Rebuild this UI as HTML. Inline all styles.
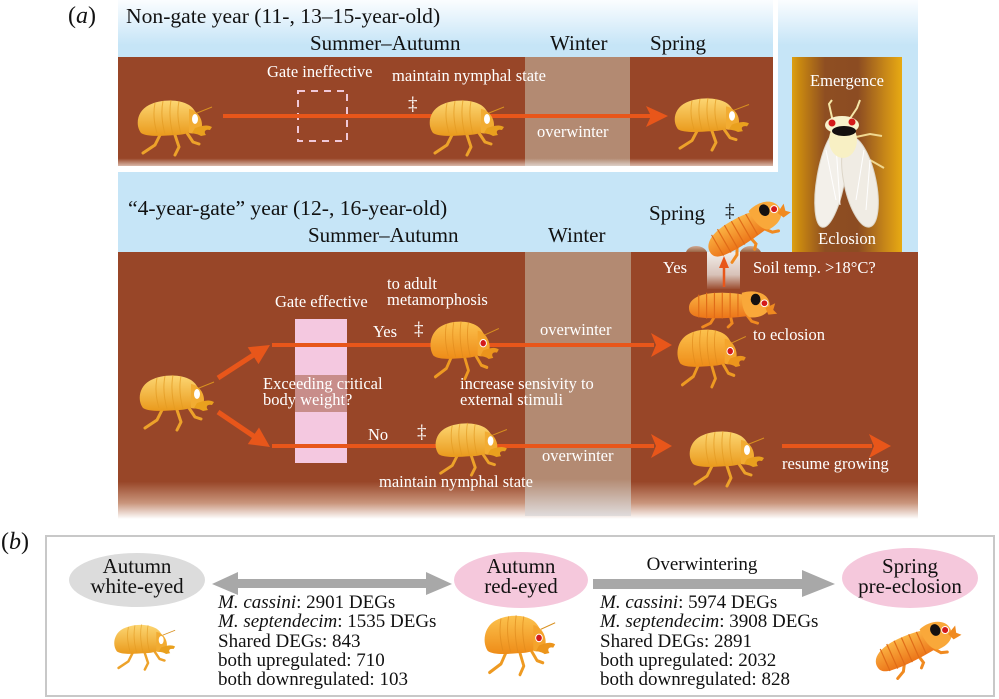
<!DOCTYPE html>
<html><head><meta charset="utf-8"><style>
html,body{margin:0;padding:0;background:#fff;}
svg{display:block;}
text{font-family:"Liberation Serif",serif;}
</style></head><body>
<svg width="999" height="699" viewBox="0 0 999 699" xmlns="http://www.w3.org/2000/svg">
<defs>
<linearGradient id="skyT" x1="0" y1="0" x2="0" y2="45" gradientUnits="userSpaceOnUse"><stop offset="0" stop-color="#fbfdff"/><stop offset="1" stop-color="#c6e5f7"/></linearGradient>
<linearGradient id="soilTop" x1="0" y1="57" x2="0" y2="166" gradientUnits="userSpaceOnUse"><stop offset="0" stop-color="#984628"/><stop offset="0.93" stop-color="#984628"/><stop offset="1" stop-color="#d9b8a8"/></linearGradient>
<linearGradient id="soilLow" x1="0" y1="252" x2="0" y2="519" gradientUnits="userSpaceOnUse"><stop offset="0" stop-color="#984628"/><stop offset="0.86" stop-color="#984628"/><stop offset="0.94" stop-color="#c9957c"/><stop offset="1" stop-color="#ffffff"/></linearGradient>
<linearGradient id="winTop" x1="0" y1="57" x2="0" y2="166" gradientUnits="userSpaceOnUse"><stop offset="0" stop-color="#b38a72"/><stop offset="0.93" stop-color="#b38a72"/><stop offset="1" stop-color="#ddd0c8"/></linearGradient>
<linearGradient id="winLow" x1="0" y1="252" x2="0" y2="516" gradientUnits="userSpaceOnUse"><stop offset="0" stop-color="#b38a72"/><stop offset="0.86" stop-color="#b38a72"/><stop offset="1" stop-color="#e0dcdc"/></linearGradient>
<linearGradient id="emer" x1="792" y1="0" x2="902" y2="0" gradientUnits="userSpaceOnUse"><stop offset="0" stop-color="#dca012"/><stop offset="0.07" stop-color="#c98810"/><stop offset="0.3" stop-color="#8e4e22"/><stop offset="0.6" stop-color="#8c4c22"/><stop offset="0.85" stop-color="#c88818"/><stop offset="1" stop-color="#e8aa12"/></linearGradient>
<linearGradient id="gb" x1="0" y1="0" x2="0" y2="1"><stop offset="0" stop-color="#fcd672"/><stop offset="1" stop-color="#ea9a1c"/></linearGradient>
<linearGradient id="gr" x1="0" y1="0" x2="0" y2="1"><stop offset="0" stop-color="#fcc24e"/><stop offset="1" stop-color="#ee8c18"/></linearGradient>
<linearGradient id="go" x1="0" y1="0" x2="0" y2="1"><stop offset="0" stop-color="#fbb444"/><stop offset="1" stop-color="#ec7418"/></linearGradient>
<linearGradient id="hole" x1="0" y1="252" x2="0" y2="290" gradientUnits="userSpaceOnUse"><stop offset="0" stop-color="#f2eeea"/><stop offset="0.6" stop-color="#d8c2b8"/><stop offset="1" stop-color="#984628"/></linearGradient>
<linearGradient id="mound" x1="0" y1="0" x2="0" y2="1"><stop offset="0" stop-color="#d0ab96"/><stop offset="1" stop-color="#9a6444"/></linearGradient>
</defs>

<rect x="118" y="0" width="800" height="252" fill="url(#skyT)"/>
<rect x="118" y="45" width="800" height="207" fill="#c6e5f7"/>
<rect x="118" y="0" width="660" height="172" fill="#ffffff"/>
<rect x="118" y="0" width="655" height="57" fill="url(#skyT)"/>
<rect x="118" y="45" width="655" height="12" fill="#c6e5f7"/>
<rect x="118" y="57" width="655" height="109" fill="url(#soilTop)"/>
<rect x="525" y="57" width="105" height="109" fill="url(#winTop)"/>

<rect x="118" y="252" width="800" height="267" fill="url(#soilLow)"/>
<rect x="525" y="252" width="106" height="264" fill="url(#winLow)"/>

<rect x="792" y="57" width="110" height="195" fill="url(#emer)"/>

<rect x="295" y="319" width="52" height="144" fill="#f4c8e0"/>
<rect x="295" y="375" width="52" height="37" fill="#c88d8a"/>

<text x="68" y="23" font-size="24" fill="#111">(<tspan font-style="italic">a</tspan>)</text>
<text x="126" y="23" font-size="21.6" fill="#111">Non-gate year (11-, 13–15-year-old)</text>
<text x="310" y="50" font-size="21" fill="#111">Summer–Autumn</text>
<text x="550" y="50" font-size="21" fill="#111">Winter</text>
<text x="650" y="50" font-size="21" fill="#111">Spring</text>
<g font-size="16.5" fill="#fff">
<text x="267" y="77">Gate ineffective</text>
<text x="392" y="81">maintain nymphal state</text>
<text x="537" y="137">overwinter</text>
</g>
<text x="408" y="110" font-size="19" fill="#fff">‡</text>
<rect x="298" y="91" width="49" height="50" fill="none" stroke="#f0c8d8" stroke-width="2" stroke-dasharray="7,6"/>

<rect x="223" y="114" width="428" height="4" fill="#e8561a"/>
<polygon points="646,106 668,116 646,127 651,116" fill="#e8561a"/>

<text x="128" y="215" font-size="21.6" fill="#111">“4-year-gate” year (12-, 16-year-old)</text>
<text x="308" y="242" font-size="21" fill="#111">Summer–Autumn</text>
<text x="548" y="242" font-size="21" fill="#111">Winter</text>
<text x="649" y="220" font-size="21" fill="#111">Spring</text>
<text x="725" y="217" font-size="19" fill="#111">‡</text>
<g font-size="16.5" fill="#fff">
<text x="275" y="307">Gate effective</text>
<text x="387" y="289">to adult</text>
<text x="387" y="305">metamorphosis</text>
<text x="373" y="337">Yes</text>
<text x="540" y="335">overwinter</text>
<text x="263" y="389">Exceeding critical</text>
<text x="263" y="405">body weight?</text>
<text x="460" y="389">increase sensivity to</text>
<text x="460" y="405">external stimuli</text>
<text x="368" y="440">No</text>
<text x="379" y="487">maintain nymphal state</text>
<text x="542" y="461">overwinter</text>
<text x="782" y="469">resume growing</text>
<text x="753" y="340">to eclosion</text>
<text x="663" y="273">Yes</text>
<text x="753" y="273">Soil temp. &gt;18°C?</text>
<text x="847" y="86" text-anchor="middle">Emergence</text>
<text x="847" y="244" text-anchor="middle">Eclosion</text>
</g>
<text x="414" y="335" font-size="19" fill="#fff">‡</text>
<text x="417" y="438" font-size="19" fill="#fff">‡</text>

<line x1="218" y1="378" x2="255" y2="354" stroke="#e8561a" stroke-width="5"/>
<polygon points="270,345 258.5,364.1 247.7,347.3" fill="#e8561a"/>
<line x1="218" y1="412" x2="255" y2="437" stroke="#e8561a" stroke-width="5"/>
<polygon points="270,447 247.8,444.1 259,427.5" fill="#e8561a"/>
<rect x="272" y="343" width="382" height="4" fill="#e8561a"/>
<polygon points="651,333 672,345 651,357 656,345" fill="#e8561a"/>
<rect x="272" y="444" width="382" height="4" fill="#e8561a"/>
<polygon points="651,434 672,446 651,458 656,446" fill="#e8561a"/>
<rect x="782" y="444" width="90" height="4" fill="#e8561a"/>
<polygon points="869,434 891,446 869,458 874,446" fill="#e8561a"/>

<path d="M686,252 C689,244 703,244 707,252 Z" fill="url(#mound)"/>
<path d="M740,252 C744,244 757,244 761,252 Z" fill="url(#mound)"/>
<rect x="707" y="252" width="33" height="37" fill="url(#hole)"/>
<line x1="724" y1="287" x2="724" y2="266" stroke="#e8561a" stroke-width="2.5"/>
<polygon points="719,268 724,256 729,268" fill="#e8561a"/>

<g>
<path d="M833,122 L829,104 L832,100 M849,120 L857,108 L860,100" stroke="#f4e6a8" stroke-width="2" fill="none"/>
<path d="M856,137 L870,134 L882,136 M856,146 L870,160 L884,168" stroke="#f0d890" stroke-width="2" fill="none"/>
<ellipse cx="831" cy="178" rx="14" ry="50" fill="#f3f0ea" stroke="#ddd6c8" stroke-width="1" transform="rotate(10 831 178)"/>
<ellipse cx="860" cy="182" rx="16" ry="46" fill="#f0ece4" stroke="#ddd6c8" stroke-width="1" transform="rotate(-12 860 182)"/>
<path d="M826,150 L836,200 M836,145 L840,205 M864,150 L856,200 M870,160 L866,210" stroke="#ffffff" stroke-width="1" fill="none"/>
<ellipse cx="843" cy="140" rx="14" ry="18" fill="#f8f0c4"/>
<ellipse cx="842" cy="125" rx="17" ry="9" fill="#f8f2cc"/>
<circle cx="832" cy="123" r="3.5" fill="#d41a1a"/>
<circle cx="852" cy="122" r="3.5" fill="#d41a1a"/>
<ellipse cx="844" cy="131" rx="12" ry="5" fill="#151010"/>
</g>

<g transform="translate(135,97)">
<path d="M26,36 L20,48 L8,56 M40,38 L44,50 L40,58 M52,36 L58,45 L64,47" stroke="#eda22a" stroke-width="3" fill="none" stroke-linecap="round" stroke-linejoin="round"/>
<path d="M6,36 C0,28 2,14 14,8 C26,2 44,2 54,8 C60,12 63,18 62,26 C61,34 52,38 40,38 C26,39 12,40 6,36 Z" fill="url(#gb)"/>
<path d="M20,6 C18,16 19,26 22,36 M28,4 C26,14 27,26 30,37 M36,3 C34,14 35,26 38,38 M44,4 C42,14 43,26 46,37" stroke="#e39a22" stroke-width="1" fill="none" opacity=".7"/>
<path d="M54,12 C61,13 67,20 67,28 C67,34 61,38 54,36 Z" fill="#f2ac32"/>
<ellipse cx="60" cy="22" rx="3" ry="5" fill="#fff"/>
<path d="M60,31 C66,29 72,27 77,30 L75,33 C71,32 68,34 71,38 L66,39 C63,37 60,37 57,36 Z" fill="#e9a01e"/>
<line x1="62" y1="16" x2="77" y2="10" stroke="#d89020" stroke-width="1"/>
</g>
<g transform="translate(427,97)">
<path d="M26,36 L20,48 L8,56 M40,38 L44,50 L40,58 M52,36 L58,45 L64,47" stroke="#eda22a" stroke-width="3" fill="none" stroke-linecap="round" stroke-linejoin="round"/>
<path d="M6,36 C0,28 2,14 14,8 C26,2 44,2 54,8 C60,12 63,18 62,26 C61,34 52,38 40,38 C26,39 12,40 6,36 Z" fill="url(#gb)"/>
<path d="M20,6 C18,16 19,26 22,36 M28,4 C26,14 27,26 30,37 M36,3 C34,14 35,26 38,38 M44,4 C42,14 43,26 46,37" stroke="#e39a22" stroke-width="1" fill="none" opacity=".7"/>
<path d="M54,12 C61,13 67,20 67,28 C67,34 61,38 54,36 Z" fill="#f2ac32"/>
<ellipse cx="60" cy="22" rx="3" ry="5" fill="#fff"/>
<path d="M60,31 C66,29 72,27 77,30 L75,33 C71,32 68,34 71,38 L66,39 C63,37 60,37 57,36 Z" fill="#e9a01e"/>
<line x1="62" y1="16" x2="77" y2="10" stroke="#d89020" stroke-width="1"/>
</g>
<g transform="translate(672,95) scale(1,0.95)">
<path d="M26,36 L20,48 L8,56 M40,38 L44,50 L40,58 M52,36 L58,45 L64,47" stroke="#eda22a" stroke-width="3" fill="none" stroke-linecap="round" stroke-linejoin="round"/>
<path d="M6,36 C0,28 2,14 14,8 C26,2 44,2 54,8 C60,12 63,18 62,26 C61,34 52,38 40,38 C26,39 12,40 6,36 Z" fill="url(#gb)"/>
<path d="M20,6 C18,16 19,26 22,36 M28,4 C26,14 27,26 30,37 M36,3 C34,14 35,26 38,38 M44,4 C42,14 43,26 46,37" stroke="#e39a22" stroke-width="1" fill="none" opacity=".7"/>
<path d="M54,12 C61,13 67,20 67,28 C67,34 61,38 54,36 Z" fill="#f2ac32"/>
<ellipse cx="60" cy="22" rx="3" ry="5" fill="#fff"/>
<path d="M60,31 C66,29 72,27 77,30 L75,33 C71,32 68,34 71,38 L66,39 C63,37 60,37 57,36 Z" fill="#e9a01e"/>
<line x1="62" y1="16" x2="77" y2="10" stroke="#d89020" stroke-width="1"/>
</g>
<g transform="translate(137,372)">
<path d="M26,36 L20,48 L8,56 M40,38 L44,50 L40,58 M52,36 L58,45 L64,47" stroke="#eda22a" stroke-width="3" fill="none" stroke-linecap="round" stroke-linejoin="round"/>
<path d="M6,36 C0,28 2,14 14,8 C26,2 44,2 54,8 C60,12 63,18 62,26 C61,34 52,38 40,38 C26,39 12,40 6,36 Z" fill="url(#gb)"/>
<path d="M20,6 C18,16 19,26 22,36 M28,4 C26,14 27,26 30,37 M36,3 C34,14 35,26 38,38 M44,4 C42,14 43,26 46,37" stroke="#e39a22" stroke-width="1" fill="none" opacity=".7"/>
<path d="M54,12 C61,13 67,20 67,28 C67,34 61,38 54,36 Z" fill="#f2ac32"/>
<ellipse cx="60" cy="22" rx="3" ry="5" fill="#fff"/>
<path d="M60,31 C66,29 72,27 77,30 L75,33 C71,32 68,34 71,38 L66,39 C63,37 60,37 57,36 Z" fill="#e9a01e"/>
<line x1="62" y1="16" x2="77" y2="10" stroke="#d89020" stroke-width="1"/>
</g>
<g transform="translate(433,420) scale(0.96,0.95)">
<path d="M26,36 L20,48 L8,56 M40,38 L44,50 L40,58 M52,36 L58,45 L64,47" stroke="#eda22a" stroke-width="3" fill="none" stroke-linecap="round" stroke-linejoin="round"/>
<path d="M6,36 C0,28 2,14 14,8 C26,2 44,2 54,8 C60,12 63,18 62,26 C61,34 52,38 40,38 C26,39 12,40 6,36 Z" fill="url(#gb)"/>
<path d="M20,6 C18,16 19,26 22,36 M28,4 C26,14 27,26 30,37 M36,3 C34,14 35,26 38,38 M44,4 C42,14 43,26 46,37" stroke="#e39a22" stroke-width="1" fill="none" opacity=".7"/>
<path d="M54,12 C61,13 67,20 67,28 C67,34 61,38 54,36 Z" fill="#f2ac32"/>
<ellipse cx="60" cy="22" rx="3" ry="5" fill="#fff"/>
<path d="M60,31 C66,29 72,27 77,30 L75,33 C71,32 68,34 71,38 L66,39 C63,37 60,37 57,36 Z" fill="#e9a01e"/>
<line x1="62" y1="16" x2="77" y2="10" stroke="#d89020" stroke-width="1"/>
</g>
<g transform="translate(687,428)">
<path d="M26,36 L20,48 L8,56 M40,38 L44,50 L40,58 M52,36 L58,45 L64,47" stroke="#eda22a" stroke-width="3" fill="none" stroke-linecap="round" stroke-linejoin="round"/>
<path d="M6,36 C0,28 2,14 14,8 C26,2 44,2 54,8 C60,12 63,18 62,26 C61,34 52,38 40,38 C26,39 12,40 6,36 Z" fill="url(#gb)"/>
<path d="M20,6 C18,16 19,26 22,36 M28,4 C26,14 27,26 30,37 M36,3 C34,14 35,26 38,38 M44,4 C42,14 43,26 46,37" stroke="#e39a22" stroke-width="1" fill="none" opacity=".7"/>
<path d="M54,12 C61,13 67,20 67,28 C67,34 61,38 54,36 Z" fill="#f2ac32"/>
<ellipse cx="60" cy="22" rx="3" ry="5" fill="#fff"/>
<path d="M60,31 C66,29 72,27 77,30 L75,33 C71,32 68,34 71,38 L66,39 C63,37 60,37 57,36 Z" fill="#e9a01e"/>
<line x1="62" y1="16" x2="77" y2="10" stroke="#d89020" stroke-width="1"/>
</g>
<g transform="translate(112,622) scale(0.82)">
<path d="M26,36 L20,48 L8,56 M40,38 L44,50 L40,58 M52,36 L58,45 L64,47" stroke="#eda22a" stroke-width="3" fill="none" stroke-linecap="round" stroke-linejoin="round"/>
<path d="M6,36 C0,28 2,14 14,8 C26,2 44,2 54,8 C60,12 63,18 62,26 C61,34 52,38 40,38 C26,39 12,40 6,36 Z" fill="url(#gb)"/>
<path d="M20,6 C18,16 19,26 22,36 M28,4 C26,14 27,26 30,37 M36,3 C34,14 35,26 38,38 M44,4 C42,14 43,26 46,37" stroke="#e39a22" stroke-width="1" fill="none" opacity=".7"/>
<path d="M54,12 C61,13 67,20 67,28 C67,34 61,38 54,36 Z" fill="#f2ac32"/>
<ellipse cx="60" cy="22" rx="3" ry="5" fill="#fff"/>
<path d="M60,31 C66,29 72,27 77,30 L75,33 C71,32 68,34 71,38 L66,39 C63,37 60,37 57,36 Z" fill="#e9a01e"/>
<line x1="62" y1="16" x2="77" y2="10" stroke="#d89020" stroke-width="1"/>
</g>

<g transform="translate(428,318) scale(0.92,1.05)">
<path d="M26,36 L20,48 L8,56 M40,38 L44,50 L40,58 M52,36 L58,45 L64,47" stroke="#ee9a22" stroke-width="3" fill="none" stroke-linecap="round" stroke-linejoin="round"/>
<path d="M6,36 C0,28 2,14 14,8 C26,2 44,2 54,8 C60,12 63,18 62,26 C61,34 52,38 40,38 C26,39 12,40 6,36 Z" fill="url(#gr)"/>
<path d="M20,6 C18,16 19,26 22,36 M28,4 C26,14 27,26 30,37 M36,3 C34,14 35,26 38,38 M44,4 C42,14 43,26 46,37" stroke="#e08a1c" stroke-width="1" fill="none" opacity=".7"/>
<path d="M54,12 C61,13 67,20 67,28 C67,34 61,38 54,36 Z" fill="#f4a42c"/>
<circle cx="60" cy="24" r="3.5" fill="#d41a1a" stroke="#fff" stroke-width="1"/>
<path d="M60,31 C66,29 72,27 77,30 L75,33 C71,32 68,34 71,38 L66,39 C63,37 60,37 57,36 Z" fill="#ec951c"/>
<line x1="62" y1="16" x2="77" y2="10" stroke="#d89020" stroke-width="1"/>
</g>
<g transform="translate(675,326) scale(0.92,1.05)">
<path d="M26,36 L20,48 L8,56 M40,38 L44,50 L40,58 M52,36 L58,45 L64,47" stroke="#ee9a22" stroke-width="3" fill="none" stroke-linecap="round" stroke-linejoin="round"/>
<path d="M6,36 C0,28 2,14 14,8 C26,2 44,2 54,8 C60,12 63,18 62,26 C61,34 52,38 40,38 C26,39 12,40 6,36 Z" fill="url(#gr)"/>
<path d="M20,6 C18,16 19,26 22,36 M28,4 C26,14 27,26 30,37 M36,3 C34,14 35,26 38,38 M44,4 C42,14 43,26 46,37" stroke="#e08a1c" stroke-width="1" fill="none" opacity=".7"/>
<path d="M54,12 C61,13 67,20 67,28 C67,34 61,38 54,36 Z" fill="#f4a42c"/>
<circle cx="60" cy="24" r="3.5" fill="#d41a1a" stroke="#fff" stroke-width="1"/>
<path d="M60,31 C66,29 72,27 77,30 L75,33 C71,32 68,34 71,38 L66,39 C63,37 60,37 57,36 Z" fill="#ec951c"/>
<line x1="62" y1="16" x2="77" y2="10" stroke="#d89020" stroke-width="1"/>
</g>
<g transform="translate(482,612) scale(0.95,1.08)">
<path d="M26,36 L20,48 L8,56 M40,38 L44,50 L40,58 M52,36 L58,45 L64,47" stroke="#ee9a22" stroke-width="3" fill="none" stroke-linecap="round" stroke-linejoin="round"/>
<path d="M6,36 C0,28 2,14 14,8 C26,2 44,2 54,8 C60,12 63,18 62,26 C61,34 52,38 40,38 C26,39 12,40 6,36 Z" fill="url(#gr)"/>
<path d="M20,6 C18,16 19,26 22,36 M28,4 C26,14 27,26 30,37 M36,3 C34,14 35,26 38,38 M44,4 C42,14 43,26 46,37" stroke="#e08a1c" stroke-width="1" fill="none" opacity=".7"/>
<path d="M54,12 C61,13 67,20 67,28 C67,34 61,38 54,36 Z" fill="#f4a42c"/>
<circle cx="60" cy="24" r="3.5" fill="#d41a1a" stroke="#fff" stroke-width="1"/>
<path d="M60,31 C66,29 72,27 77,30 L75,33 C71,32 68,34 71,38 L66,39 C63,37 60,37 57,36 Z" fill="#ec951c"/>
<line x1="62" y1="16" x2="77" y2="10" stroke="#d89020" stroke-width="1"/>
</g>

<g transform="translate(687,289) scale(0.98,0.95)">
<path d="M30,26 L24,36 L16,40 M44,27 L46,36 L42,40 M60,26 L66,34 L72,36" stroke="#f08a20" stroke-width="3" fill="none" stroke-linecap="round"/>
<path d="M2,20 C2,10 14,4 34,4 C50,4 62,6 66,10 L66,28 C50,30 30,32 14,30 C6,29 2,26 2,20 Z" fill="url(#go)"/>
<path d="M12,6 L12,30 M20,4 L20,31 M28,4 L28,31 M36,4 L36,31 M44,4 L44,30 M52,5 L52,29" stroke="#e06c18" stroke-width="1.2"/>
<path d="M56,4 C68,0 82,4 84,14 C86,22 80,30 66,30 C60,30 55,20 56,4 Z" fill="#f9a83a"/>
<ellipse cx="70" cy="11" rx="5" ry="6" fill="#151010"/>
<circle cx="79" cy="15" r="3.5" fill="#d41a1a" stroke="#fff" stroke-width="1"/>
<path d="M80,20 L90,15 L88,22 L92,26 L83,27 Z" fill="#f08a20"/>
</g>
<g transform="translate(748,230) rotate(-30) translate(-46,-20)">
<path d="M30,26 L24,36 L16,40 M44,27 L46,36 L42,40 M60,26 L66,34 L72,36" stroke="#f08a20" stroke-width="3" fill="none" stroke-linecap="round"/>
<path d="M2,20 C2,10 14,4 34,4 C50,4 62,6 66,10 L66,28 C50,30 30,32 14,30 C6,29 2,26 2,20 Z" fill="url(#go)"/>
<path d="M12,6 L12,30 M20,4 L20,31 M28,4 L28,31 M36,4 L36,31 M44,4 L44,30 M52,5 L52,29" stroke="#e06c18" stroke-width="1.2"/>
<path d="M56,4 C68,0 82,4 84,14 C86,22 80,30 66,30 C60,30 55,20 56,4 Z" fill="#f9a83a"/>
<ellipse cx="70" cy="11" rx="5" ry="6" fill="#151010"/>
<circle cx="79" cy="15" r="3.5" fill="#d41a1a" stroke="#fff" stroke-width="1"/>
<path d="M80,20 L90,15 L88,22 L92,26 L83,27 Z" fill="#f08a20"/>
</g>
<g transform="translate(917,648) rotate(-24) translate(-46,-20)">
<path d="M30,26 L24,36 L16,40 M44,27 L46,36 L42,40 M60,26 L66,34 L72,36" stroke="#f08a20" stroke-width="3" fill="none" stroke-linecap="round"/>
<path d="M2,20 C2,10 14,4 34,4 C50,4 62,6 66,10 L66,28 C50,30 30,32 14,30 C6,29 2,26 2,20 Z" fill="url(#go)"/>
<path d="M12,6 L12,30 M20,4 L20,31 M28,4 L28,31 M36,4 L36,31 M44,4 L44,30 M52,5 L52,29" stroke="#e06c18" stroke-width="1.2"/>
<path d="M56,4 C68,0 82,4 84,14 C86,22 80,30 66,30 C60,30 55,20 56,4 Z" fill="#f9a83a"/>
<ellipse cx="70" cy="11" rx="5" ry="6" fill="#151010"/>
<circle cx="79" cy="15" r="3.5" fill="#d41a1a" stroke="#fff" stroke-width="1"/>
<path d="M80,20 L90,15 L88,22 L92,26 L83,27 Z" fill="#f08a20"/>
</g>

<text x="1" y="549" font-size="24" fill="#111">(<tspan font-style="italic">b</tspan>)</text>
<rect x="46" y="536" width="948" height="160" fill="none" stroke="#c8c8c8" stroke-width="2"/>
<ellipse cx="137" cy="580" rx="68" ry="27" fill="#dcdcdc"/>
<ellipse cx="521" cy="580" rx="67" ry="28" fill="#f5c8dc"/>
<ellipse cx="910" cy="578" rx="68" ry="30" fill="#f5c8dc"/>
<text x="137" y="573" font-size="21" fill="#111" text-anchor="middle">Autumn</text>
<text x="137" y="593" font-size="21" fill="#111" text-anchor="middle">white-eyed</text>
<text x="521" y="573" font-size="21" fill="#111" text-anchor="middle">Autumn</text>
<text x="521" y="593" font-size="21" fill="#111" text-anchor="middle">red-eyed</text>
<text x="910" y="573" font-size="21" fill="#111" text-anchor="middle">Spring</text>
<text x="910" y="593" font-size="21" fill="#111" text-anchor="middle">pre-eclosion</text>

<rect x="236" y="579" width="193" height="9" fill="#a8a8a8"/>
<polygon points="212,584 238,572 238,595" fill="#a8a8a8"/>
<polygon points="452,584 426,572 426,595" fill="#a8a8a8"/>
<rect x="593" y="579" width="212" height="10" fill="#a8a8a8"/>
<polygon points="802,570 835,584 802,597" fill="#a8a8a8"/>
<text x="702" y="570" font-size="19" fill="#111" text-anchor="middle">Overwintering</text>

<g font-size="19" fill="#111">
<text x="218" y="608"><tspan font-style="italic">M. cassini</tspan>: 2901 DEGs</text>
<text x="218" y="627"><tspan font-style="italic">M. septendecim</tspan>: 1535 DEGs</text>
<text x="218" y="647">Shared DEGs: 843</text>
<text x="218" y="666">both upregulated: 710</text>
<text x="218" y="685">both downregulated: 103</text>
<text x="600" y="608"><tspan font-style="italic">M. cassini</tspan>: 5974 DEGs</text>
<text x="600" y="627"><tspan font-style="italic">M. septendecim</tspan>: 3908 DEGs</text>
<text x="600" y="647">Shared DEGs: 2891</text>
<text x="600" y="666">both upregulated: 2032</text>
<text x="600" y="685">both downregulated: 828</text>
</g>
</svg>
</body></html>
